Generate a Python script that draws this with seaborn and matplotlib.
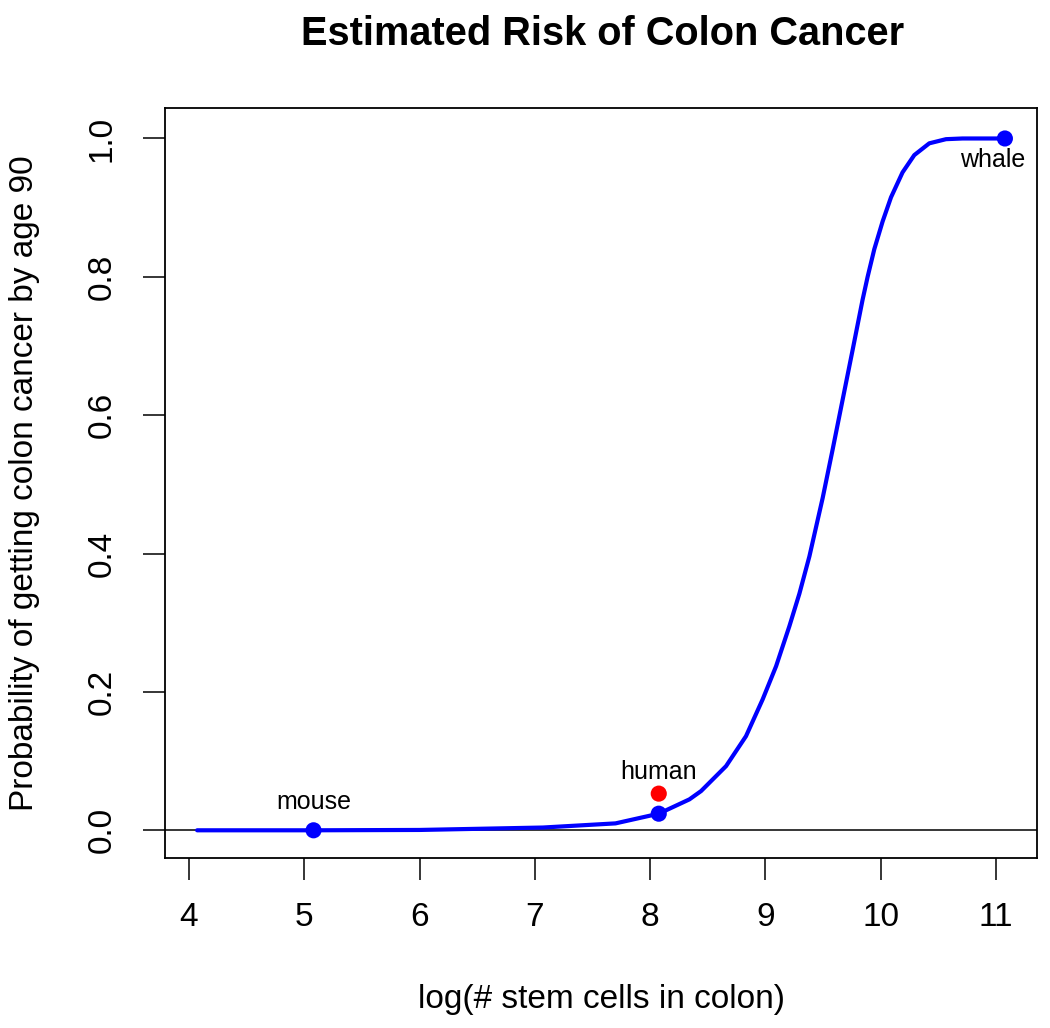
import matplotlib
matplotlib.use("Agg")
import matplotlib.pyplot as plt
import seaborn as sns
import pandas as pd

# curve
curve_x = [4.07, 5.08, 6.00, 7.07, 7.70, 8.075, 8.341, 8.442, 8.659, 8.832, 8.976,
           9.093, 9.208, 9.295, 9.382, 9.497, 9.583, 9.670, 9.757, 9.843, 9.887,
           9.945, 10.017, 10.090, 10.190, 10.292, 10.422, 10.567, 10.710, 11.078]
curve_y = [0.0, 0.0, 0.0005, 0.004, 0.010, 0.024, 0.0447, 0.0567, 0.0928, 0.1361,
           0.1891, 0.2372, 0.2949, 0.342, 0.396, 0.4803, 0.550, 0.6222, 0.6944,
           0.7666, 0.800, 0.840, 0.880, 0.915, 0.951, 0.976, 0.993, 0.999, 1.0, 1.0]

animals = ["mouse", "human", "whale"]
animal_x = [5.08, 8.075, 11.078]
animal_y = [0.0, 0.024, 1.0]
observed_x = [8.075]
observed_y = [0.053]

sns.set_style("ticks")
plt.rcParams["font.family"] = ["Liberation Sans", "DejaVu Sans"]
plt.rcParams["text.color"] = "black"
plt.rcParams["axes.labelcolor"] = "black"

curve = pd.DataFrame({"x": curve_x, "y": curve_y})
pts = pd.DataFrame({"x": animal_x, "y": animal_y, "name": animals})
obs = pd.DataFrame({"x": observed_x, "y": observed_y})

fig = plt.figure(figsize=(10.5, 10.28), dpi=100)
ax = fig.add_axes([0.157, 0.1654, 0.831, 0.7295])

ax.axhline(0, color="black", lw=1.1, zorder=1)
sns.lineplot(data=curve, x="x", y="y", ax=ax, color="#0000ff", lw=3.0,
             sort=False, estimator=None, zorder=2)
sns.scatterplot(data=pts, x="x", y="y", ax=ax, color="#0000ff", s=135,
                edgecolor="none", zorder=3)
sns.scatterplot(data=obs, x="x", y="y", ax=ax, color="#ff0000", s=135,
                edgecolor="none", zorder=3)

# labels
ax.annotate("mouse", (animal_x[0], animal_y[0]), xytext=(0, 20.5),
            textcoords="offset points", ha="center", va="center", fontsize=18)
ax.annotate("human", (observed_x[0], observed_y[0]), xytext=(0, 15.5),
            textcoords="offset points", ha="center", va="center", fontsize=18)
ax.annotate("whale", (animal_x[2], animal_y[2]), xytext=(-8.5, -15.5),
            textcoords="offset points", ha="center", va="center", fontsize=18)

ax.set_xlim(3.79, 11.36)
ax.set_ylim(-0.04, 1.044)
ax.set_xticks(range(4, 12))
ax.set_yticks([0.0, 0.2, 0.4, 0.6, 0.8, 1.0])
ax.set_yticklabels(["0.0", "0.2", "0.4", "0.6", "0.8", "1.0"], rotation=90, va="center")
ax.tick_params(direction="out", length=15.8, width=1.1, labelsize=24, pad=16,
               colors="black")
ax.tick_params(axis="y", pad=18)

for s in ax.spines.values():
    s.set_linewidth(1.3)
    s.set_color("black")

ax.set_xlabel("log(# stem cells in colon)", fontsize=24, va="center")
ax.set_ylabel("Probability of getting colon cancer by age 90", fontsize=24, va="center")
ax.xaxis.set_label_coords(0.5, -0.1893)
ax.yaxis.set_label_coords(-0.1606, 0.5)

fig.text(0.5735, 0.956, "Estimated Risk of Colon Cancer", ha="center", va="baseline",
         fontsize=28.6, fontweight="bold")

fig.savefig("out.png", dpi=100)
